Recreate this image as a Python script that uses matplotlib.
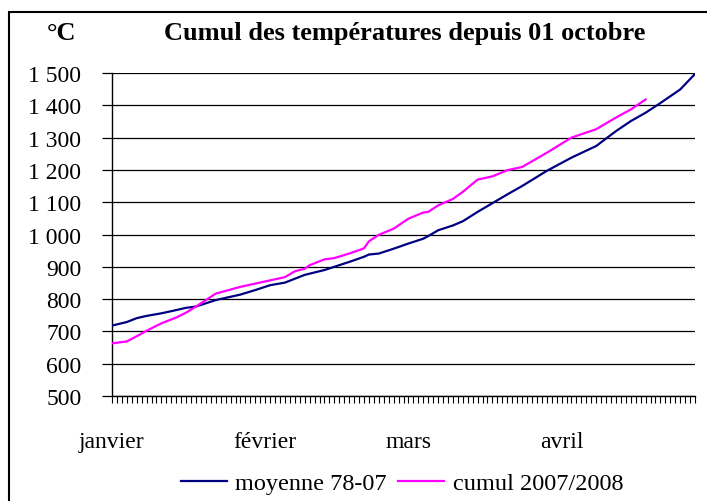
import matplotlib
matplotlib.use("Agg")
import matplotlib.pyplot as plt
from matplotlib.patches import Rectangle
from matplotlib.ticker import FixedLocator, FuncFormatter

# cumulative degree-days since 1 October, day 0 = 1 January
jours_moy = [0, 3, 5, 7, 10, 13, 15, 17, 21, 26, 29, 32, 35, 37, 39, 43, 45,
             48, 51, 52, 54, 57, 60, 63, 64, 66, 69, 71, 74, 77, 80, 83, 88,
             93, 98, 102, 105, 108, 111, 115, 118]
moyenne = [718, 729, 741, 748, 756, 766, 773, 777, 797, 814, 828, 843, 851,
           863, 875, 890, 900, 915, 931, 938, 941, 956, 972, 987, 995, 1013,
           1028, 1041, 1070, 1097, 1124, 1150, 1197, 1238, 1274, 1320, 1351,
           1377, 1407, 1449, 1497]

jours_cumul = [0, 3, 5, 7, 10, 13, 15, 17, 21, 26, 29, 32, 35, 37, 39, 40, 43,
               45, 48, 51, 52, 54, 57, 60, 63, 64, 66, 69, 71, 74, 77, 80, 83,
               88, 93, 98, 102, 105, 108]
cumul = [663, 669, 685, 702, 725, 743, 758, 777, 817, 838, 848, 858, 868, 886,
         894, 905, 923, 927, 941, 957, 979, 999, 1018, 1049, 1068, 1070, 1090,
         1110, 1132, 1170, 1180, 1199, 1209, 1253, 1300, 1326, 1362, 1387, 1418]

mois = ["janvier", "février", "mars", "avril"]
mois_jours = [0, 31, 60, 91]
nb_jours = 119

plt.rcParams["font.family"] = ["Liberation Serif", "DejaVu Serif"]

fig = plt.figure(figsize=(7.07, 5.02), dpi=100)
W, H = 707, 502

# chart frame (only left and top edges visible)
fig.patches.append(Rectangle((9 / W, -0.1), 1.2, (H - 13) / H + 0.1,
                             transform=fig.transFigure, fill=False,
                             edgecolor="black", linewidth=1.5))

ax = fig.add_axes([112 / W, (H - 397) / H, (695 - 112) / W, (397 - 74) / H])

ax.plot(jours_moy, moyenne, color="#000080", linewidth=1.6,
        label="moyenne 78-07", zorder=3)
ax.plot(jours_cumul, cumul, color="#FF00FF", linewidth=1.6,
        label="cumul 2007/2008", zorder=3)

ax.set_xlim(0, nb_jours - 1)
ax.set_ylim(500, 1500)

ax.yaxis.set_major_locator(FixedLocator(range(500, 1501, 100)))
ax.yaxis.set_major_formatter(
    FuncFormatter(lambda v, p: f"{int(v):,}".replace(",", " ")))
ax.yaxis.grid(True, color="black", linewidth=0.9)
ax.set_axisbelow(True)

ax.xaxis.set_major_locator(FixedLocator(mois_jours))
ax.set_xticklabels(mois)
ax.xaxis.set_minor_locator(FixedLocator(range(nb_jours)))

ax.tick_params(axis="y", direction="out", length=7, width=0.9,
               pad=15, labelsize=17)
ax.tick_params(axis="x", which="both", direction="out", length=5,
               width=0.8, pad=20, labelsize=17)

for side in ["top", "right"]:
    ax.spines[side].set_visible(False)
ax.spines["left"].set_linewidth(1.0)
ax.spines["bottom"].set_linewidth(1.0)

fig.text(405 / W, 1 - 34 / H, "Cumul des températures depuis 01 octobre",
         ha="center", va="center", fontsize=19, fontweight="bold")
fig.text(62 / W, 1 - 34 / H, "°C", ha="center", va="center",
         fontsize=19, fontweight="bold")

fig.legend(loc="center", bbox_to_anchor=(402 / W, 18 / H), ncol=2,
           frameon=False, fontsize=17.5, handlelength=1.9,
           handletextpad=0.35, columnspacing=0.45)

fig.savefig("out.png", dpi=100)
